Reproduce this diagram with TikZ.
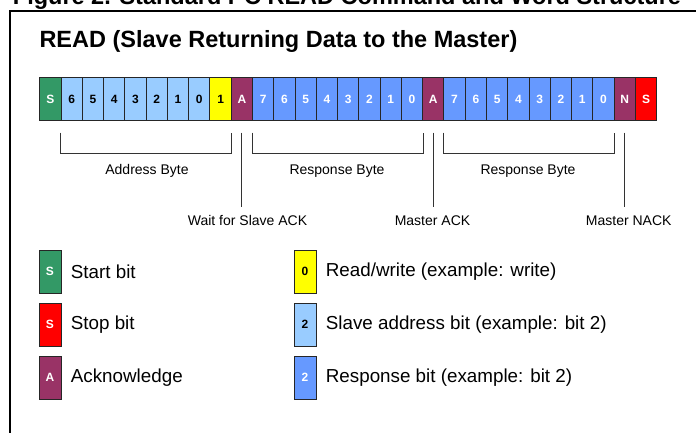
\documentclass[tikz,border=0pt]{standalone}
\usepackage{fontspec}
\setmainfont{Liberation Sans}
\usetikzlibrary{calc}
\definecolor{cgreen}{HTML}{339966}
\definecolor{clight}{HTML}{99CCFF}
\definecolor{cresp}{HTML}{6699FF}
\definecolor{cyel}{HTML}{FFFF00}
\definecolor{cpurp}{HTML}{993366}
\definecolor{cred}{HTML}{FF0000}
\begin{document}
\begin{tikzpicture}[x=1pt,y=-1pt,
  bitbox/.style={draw=black!85, line width=1pt, minimum width=21.27pt, minimum height=43pt, inner sep=0pt,
    font=\fontsize{12}{13}\selectfont\bfseries},
  gbit/.style={bitbox, fill=cgreen, text=white},
  abit/.style={bitbox, fill=clight, text=black},
  ybit/.style={bitbox, fill=cyel, text=black},
  pbit/.style={bitbox, fill=cpurp, text=white},
  rbit/.style={bitbox, fill=cresp, text=white},
  xbit/.style={bitbox, fill=cred, text=white},
  legbox/.style={minimum width=22pt},
  lbl/.style={font=\fontsize{14}{16}\selectfont, inner sep=0pt},
  legtxt/.style={font=\fontsize{18.8}{21}\selectfont, anchor=west, inner sep=0pt},
  brk/.style={draw=black!80, line width=0.9pt}]
\useasboundingbox (0,0) rectangle (696,433);
\clip (0,0) rectangle (696,433);
% cut-off figure title and frame
\node[anchor=base west, inner sep=0pt, font=\fontsize{23.5}{26}\selectfont\bfseries] (ftitle) at (12.7,4.5)
  {Figure 2. Standard I\textsuperscript{2}C READ Command and Word Structure};
\draw[line width=1.7pt] (10,445) -- (10,11) -- (705,11);
% subtitle
\node[anchor=base west, inner sep=0pt, font=\fontsize{23.5}{26}\selectfont\bfseries] (title) at (39.3,47.7)
  {READ (Slave Returning Data to the Master)};
% bit row
\foreach \t/\s [count=\i from 0] in {S/gbit,6/abit,5/abit,4/abit,3/abit,2/abit,1/abit,0/abit,1/ybit,A/pbit,
  7/rbit,6/rbit,5/rbit,4/rbit,3/rbit,2/rbit,1/rbit,0/rbit,A/pbit,
  7/rbit,6/rbit,5/rbit,4/rbit,3/rbit,2/rbit,1/rbit,0/rbit,N/pbit,S/xbit}
  \node[\s, anchor=north west] (b\i) at ({39.3+\i*21.27},77.5) {\t};
% brackets
\draw[brk] ($(b1.south west)+(0,11.2)$) -- ++(0,21) -| ($(b8.south east)+(0,11.2)$);
\draw[brk] ($(b10.south west)+(0,11.2)$) -- ++(0,21) -| ($(b17.south east)+(0,11.2)$);
\draw[brk] ($(b19.south west)+(0,11.2)$) -- ++(0,21) -| ($(b26.south east)+(0,11.2)$);
\node[lbl] (addr) at (147,170.7) {Address Byte};
\node[lbl] (resp1) at (337,170.7) {Response Byte};
\node[lbl] (resp2) at (528,170.7) {Response Byte};
% ack lines
\coordinate (w1) at ($(b9.south)+(0,85.5)$);
\coordinate (w2) at ($(b18.south)+(0,85.5)$);
\coordinate (w3) at ($(b27.south)+(0,85.5)$);
\draw[brk] ($(b9.south)+(0,11.2)$) -- (w1);
\draw[brk] ($(b18.south)+(0,11.2)$) -- (w2);
\draw[brk] ($(b27.south)+(0,11.2)$) -- (w3);
\node[lbl] (wait) at (247.5,220.7) {Wait for Slave ACK};
\node[lbl] (mack) at (432.5,220.7) {Master ACK};
\node[lbl] (mnack) at (628.7,220.7) {Master NACK};
% legend
\node[gbit, legbox] (l1) at (50,271.7) {S};
\node[xbit, legbox] (l2) at (50,324.7) {S};
\node[pbit, legbox] (l3) at (50,377.7) {A};
\node[ybit, legbox] (l4) at (305,271.7) {0};
\node[abit, legbox] (l5) at (305,324.7) {2};
\node[rbit, legbox] (l6) at (305,377.7) {2};
\node[legtxt] (t1) at (70.7,271.7) {Start bit};
\node[legtxt] (t2) at (70.7,324.7) {Stop bit};
\node[legtxt] (t3) at (70.7,377.7) {Acknowledge};
\node[legtxt] (t4) at (325.7,271.7) {Read/write (example: write)};
\node[legtxt] (t5) at (325.7,324.7) {Slave address bit (example: bit 2)};
\node[legtxt] (t6) at (325.7,377.7) {Response bit (example: bit 2)};
\end{tikzpicture}
\end{document}
